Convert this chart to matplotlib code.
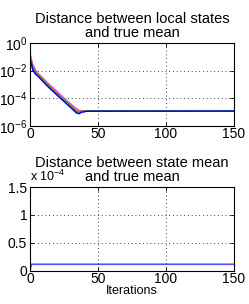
import matplotlib
matplotlib.use("Agg")
import matplotlib.pyplot as plt
from matplotlib.ticker import FixedLocator, FuncFormatter, NullLocator

plt.rcParams['font.family'] = ['Liberation Sans', 'DejaVu Sans']
plt.rcParams['font.size'] = 10
plt.rcParams['mathtext.fontset'] = 'custom'
plt.rcParams['mathtext.rm'] = 'Liberation Sans'
plt.rcParams['mathtext.it'] = 'Liberation Sans:italic'
plt.rcParams['mathtext.bf'] = 'Liberation Sans:bold'

# ---- data ----
iters_top = [0, 1, 2, 4, 6, 13, 23, 30, 34, 36, 38, 42, 150]
local_magenta = [0.19,  0.063, 0.028,  0.0112, 0.0063, 1.29e-3, 1.58e-4, 3.8e-5, 1.78e-5, 1.32e-5, 1.2e-5,  1.2e-5,  1.2e-5]
local_pink    = [0.158, 0.055, 0.0234, 0.0098, 0.0056, 1.15e-3, 1.41e-4, 3.4e-5, 1.58e-5, 1.2e-5,  1.17e-5, 1.2e-5,  1.2e-5]
local_olive   = [0.135, 0.048, 0.0195, 0.0085, 0.0051, 1.02e-3, 1.26e-4, 3.0e-5, 1.38e-5, 1.07e-5, 1.15e-5, 1.2e-5,  1.2e-5]
local_brown   = [0.112, 0.042, 0.0162, 0.0074, 0.0047, 9.1e-4,  1.12e-4, 2.7e-5, 1.2e-5,  9.5e-6,  1.1e-5,  1.2e-5,  1.2e-5]
local_green   = [0.095, 0.036, 0.0135, 0.0065, 0.0042, 8.1e-4,  1.0e-4,  2.4e-5, 1.05e-5, 8.5e-6,  1.05e-5, 1.2e-5,  1.2e-5]
local_blue    = [0.079, 0.032, 0.0112, 0.0056, 0.0038, 7.2e-4,  8.9e-5,  2.1e-5, 8.9e-6,  7.6e-6,  1.0e-5,  1.17e-5, 1.2e-5]
local_series = [local_magenta, local_pink, local_olive, local_brown, local_green, local_blue]
local_colors = ['#ff00ff', '#c070ff', '#c0a000', '#a06020', '#20a020', '#0000ff']

iters_bottom = [0, 1, 150]
mean_dist = [0.0, 1.2e-5, 1.2e-5]

fig = plt.figure(figsize=(2.49, 3.04), dpi=100)

# ---- top axes ----
ax1 = fig.add_axes([30/249, 1-126/304, 204/249, 83/304])
for ys, c in zip(local_series, local_colors):
    ax1.plot(iters_top, ys, color=c, lw=1.0)
ax1.set_yscale('log')
ax1.set_xlim(0, 150)
ax1.set_ylim(1e-6, 1e0)
ax1.yaxis.set_major_locator(FixedLocator([1e-6, 1e-4, 1e-2, 1e0]))
ax1.yaxis.set_minor_locator(NullLocator())
ax1.set_xticks([0, 50, 100, 150])
ax1.grid(True, linestyle=(0, (1, 3.5)), color='black', linewidth=0.6)
ax1.set_title('Distance between local states\nand true mean', fontsize=10.5, pad=4, linespacing=1.05)

# ---- bottom axes ----
ax2 = fig.add_axes([30/249, 1-271/304, 204/249, 84/304])
ax2.plot(iters_bottom, mean_dist, color='#5050ff', lw=1.2)
ax2.set_xlim(0, 150)
ax2.set_ylim(0, 1.5e-4)
ax2.set_xticks([0, 50, 100, 150])
ax2.set_yticks([0, 0.5e-4, 1.0e-4, 1.5e-4])
ax2.yaxis.set_major_formatter(FuncFormatter(lambda v, p: f"{v/1e-4:g}"))
ax2.grid(True, linestyle=(0, (1, 3.5)), color='black', linewidth=0.6)
ax2.set_title('Distance between state mean\nand true mean', fontsize=10.5, pad=4, linespacing=1.05)
ax2.set_xlabel('Iterations', fontsize=9, labelpad=-1)
ax2.text(0.0, 1.03, r'x 10$^{-4}$', transform=ax2.transAxes, fontsize=9, ha='left', va='bottom')

for ax in (ax1, ax2):
    ax.tick_params(direction='in', length=3, width=0.6, labelsize=10, pad=2, top=True, right=True)
    ax.tick_params(axis='x', pad=1)
    for s in ax.spines.values():
        s.set_linewidth(0.8)

fig.savefig('out.png', dpi=100)
